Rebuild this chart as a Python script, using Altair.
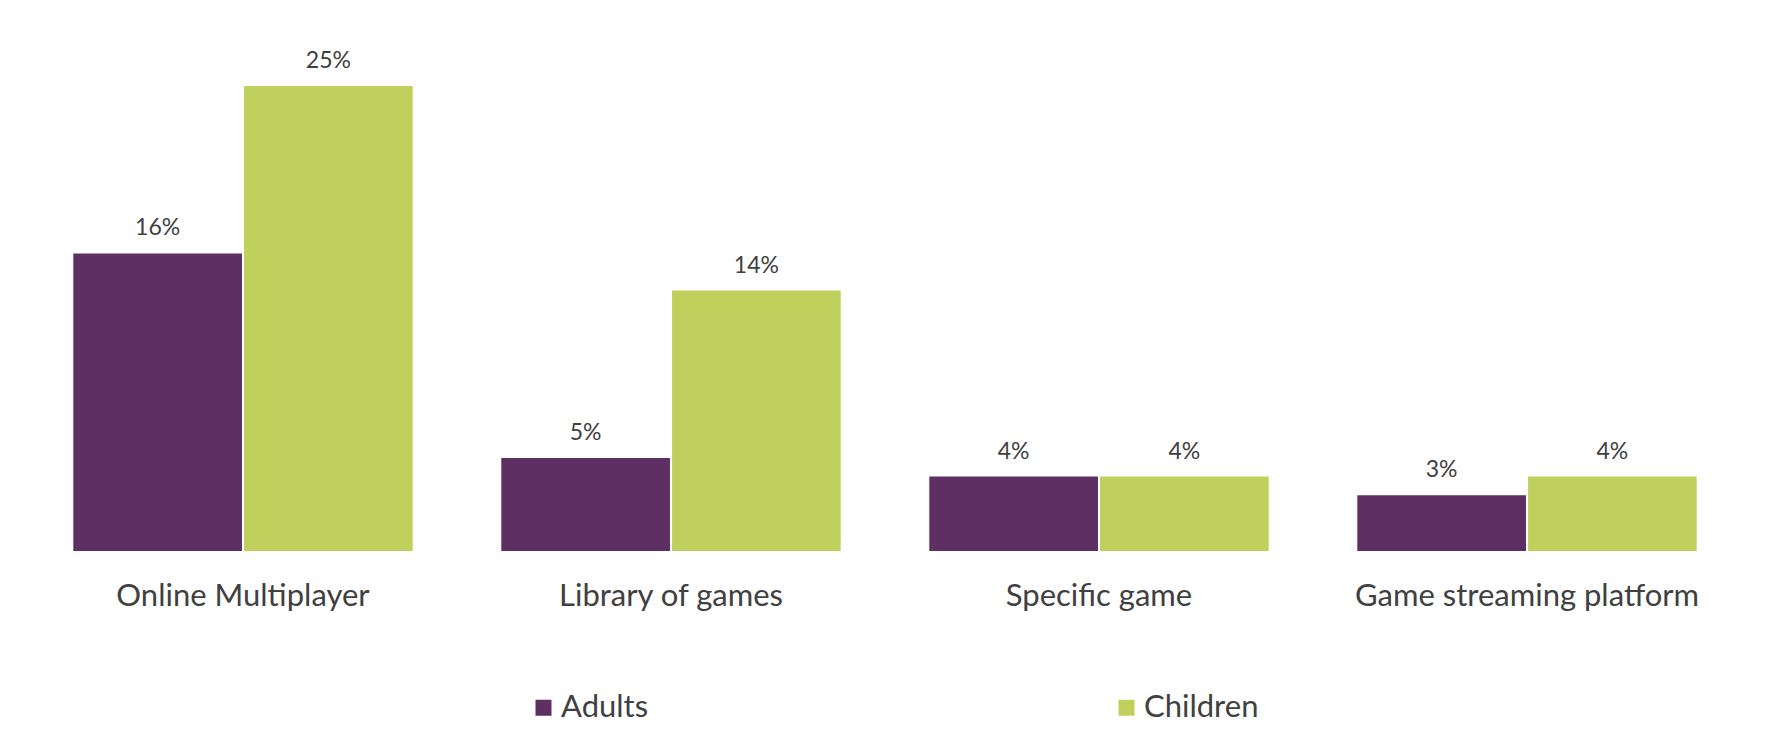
import altair as alt
import pandas as pd

# values (percent)
categories = ["Online Multiplayer", "Library of games", "Specific game", "Game streaming platform"]
groups = ["Adults", "Children"]
adults = [16, 5, 4, 3]
children = [25, 14, 4, 4]
colours = ["#5E2F62", "#BFD15C"]

rows = []
for cat, a, c in zip(categories, adults, children):
    rows.append({"category": cat, "group": "Adults", "value": a})
    rows.append({"category": cat, "group": "Children", "value": c})
df = pd.DataFrame(rows)

text_colour = "#404040"

base = alt.Chart(df).encode(
    x=alt.X("category:N", sort=categories, title=None,
            scale=alt.Scale(paddingInner=0.207, paddingOuter=0.1035),
            axis=alt.Axis(labelAngle=0, domain=False, ticks=False, tickSize=0,
                          labelPadding=45, labelBaseline="middle", labelFontSize=31,
                          labelColor=text_colour, labelLimit=0, grid=False)),
    xOffset=alt.XOffset("group:N", sort=groups, scale=alt.Scale(paddingInner=0.012)),
    y=alt.Y("value:Q", axis=None, scale=alt.Scale(domain=[0, 25], nice=False)),
)

bars = base.mark_bar().encode(
    color=alt.Color("group:N", sort=groups,
                    scale=alt.Scale(domain=groups, range=colours),
                    legend=alt.Legend(title=None, orient="none", legendX=499, legendY=606,
                                      direction="horizontal", symbolType="square",
                                      symbolSize=256, symbolStrokeWidth=0,
                                      labelFontSize=31, labelColor=text_colour,
                                      labelOffset=2, columnPadding=462, padding=0))
)

labels = base.transform_calculate(
    label="datum.value + '%'"
).mark_text(baseline="middle", dy=-25, fontSize=23, color=text_colour).encode(
    text="label:N"
)

chart = alt.layer(bars, labels).properties(
    width=1712,
    height=465,
    padding={"left": 21, "top": 42, "right": 0, "bottom": 0},
).configure(
    font="Lato"
).configure_view(
    stroke=None
)

chart.save("out.html", embed_options={"renderer": "svg", "actions": False})
